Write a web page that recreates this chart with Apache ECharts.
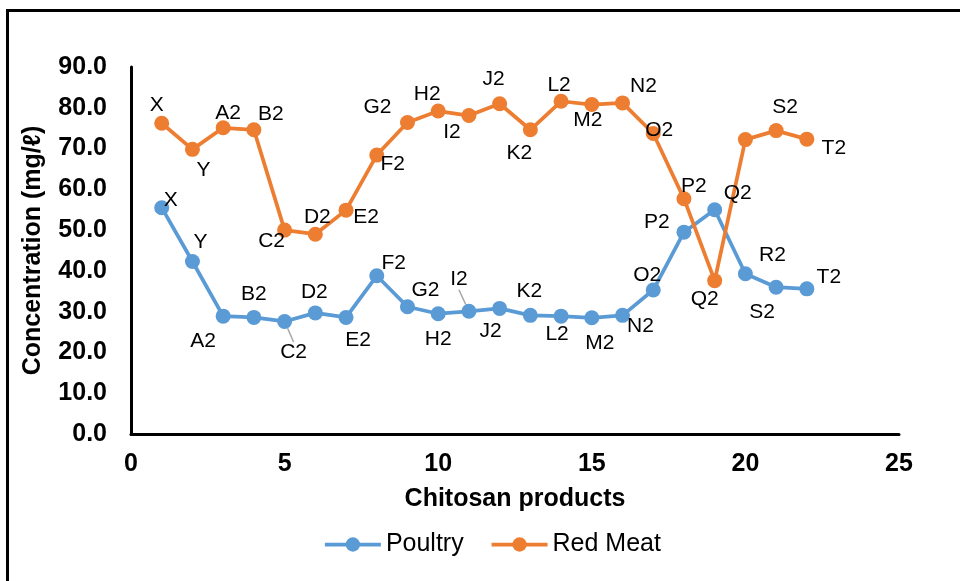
<!DOCTYPE html>
<html>
<head>
<meta charset="utf-8">
<script src="https://cdn.jsdelivr.net/npm/echarts@6/dist/echarts.min.js"></script>
<style>
  html, body { margin: 0; padding: 0; background: #ffffff; }
  #chart { width: 960px; height: 581px; }
</style>
</head>
<body>
<div id="chart"></div>
<script>
// Chitosan product codes and their position along the x axis
const products = ['X', 'Y', 'A2', 'B2', 'C2', 'D2', 'E2', 'F2', 'G2', 'H2', 'I2',
                  'J2', 'K2', 'L2', 'M2', 'N2', 'O2', 'P2', 'Q2', 'R2', 'S2', 'T2'];
const productIndex = [1, 2, 3, 4, 5, 6, 7, 8, 9, 10, 11, 12, 13, 14, 15, 16, 17, 18, 19, 20, 21, 22];

// Concentration (mg/ℓ) per product
const poultry = [55.5, 42.3, 28.9, 28.6, 27.6, 29.7, 28.6, 38.8, 31.2, 29.5, 30.1,
                 30.8, 29.1, 28.9, 28.5, 29.1, 35.3, 49.5, 55.0, 39.3, 36.0, 35.6];
const redMeat = [76.2, 69.8, 75.1, 74.6, 50.0, 49.0, 54.9, 68.4, 76.4, 79.2, 78.1,
                 81.0, 74.6, 81.6, 80.8, 81.2, 73.7, 57.7, 37.6, 72.2, 74.4, 72.3];

const seriesNames = ['Poultry', 'Red Meat'];
const xAxisTitle = 'Chitosan products';
const yAxisTitle = 'Concentration (mg/ℓ)';

// Where each point label sits relative to its marker (pixels); null = no label
const poultryLabelShift = [[9, -7], [8, -19], [-20, 25], [0, -23], [9, 31], [-1, -21], [12, 23],
  [17, -13], [18, -17], [0, 25], [-10, -32], [-9, 23], [-1, -24], [-4, 18], [8, 25], [18, 11],
  [-6, -15], [-27, -10], [23, -17], [27, -19], [-14, 25], [22, -12]];
const redMeatLabelShift = [[-5, -18], [11, 21], [5, -15], [17, -16], [-13, 11], [2, -17], [20, 7],
  [16, 9], [-30, -15], [-11, -17], [-17, 17], [-6, -24], [-11, 23], [-2, -16], [-4, 16], [21, -17],
  [6, -3], [10, -13], [-10, 19], null, [9, -23], [27, 9]];
// Labels drawn with a short guide line back to their marker
const poultryGuided = ['C2', 'I2'];

const FONT = '"Liberation Sans", Arial, sans-serif';
const BLUE = '#5B9BD5';
const ORANGE = '#ED7D31';

function buildData(values, shifts, guided) {
  return products.map((name, i) => {
    const item = { name: name, value: [productIndex[i], values[i]] };
    if (shifts[i] === null) item.label = { show: false };
    if (guided && guided.indexOf(name) >= 0) {
      item.labelLine = { show: true, lineStyle: { color: '#A6A6A6', width: 1.5 } };
    }
    return item;
  });
}

const shiftsBySeries = [poultryLabelShift, redMeatLabelShift];

function lineSeries(name, values, color, shifts, guided) {
  return {
    name: name,
    type: 'line',
    data: buildData(values, shifts, guided),
    symbol: 'circle',
    symbolSize: 15,
    lineStyle: { color: color, width: 3.75 },
    itemStyle: { color: color },
    label: {
      show: true,
      position: 'inside',
      formatter: p => p.name,
      color: '#000',
      fontFamily: FONT,
      fontSize: 21
    },
    labelLine: { show: false },
    labelLayout: function (params) {
      const s = shiftsBySeries[params.seriesIndex][params.dataIndex];
      if (!s) return {};
      return { dx: s[0], dy: s[1] };
    },
    emphasis: { disabled: true },
    animation: false
  };
}

const chart = echarts.init(document.getElementById('chart'), null, { renderer: 'canvas' });

chart.setOption({
  backgroundColor: '#ffffff',
  animation: false,
  graphic: [{
    type: 'rect',
    silent: true,
    shape: { x: 7.5, y: 10.5, width: 1000, height: 1000 },
    style: { fill: 'none', stroke: '#000', lineWidth: 3 }
  }],
  grid: { left: 131, right: 61, top: 67, bottom: 147, containLabel: false },
  legend: {
    data: seriesNames,
    left: 318,
    top: 527,
    itemWidth: 56,
    itemHeight: 18,
    itemGap: 26,
    lineStyle: { width: 3.75 },
    textStyle: { fontFamily: FONT, fontSize: 25, color: '#000' }
  },
  xAxis: {
    type: 'value',
    min: 0,
    max: 25,
    interval: 5,
    name: xAxisTitle,
    nameLocation: 'middle',
    nameGap: 53,
    nameTextStyle: { fontFamily: FONT, fontSize: 25, fontWeight: 'bold', color: '#000' },
    axisLine: { show: true, lineStyle: { color: '#000', width: 3 } },
    axisTick: { show: false },
    splitLine: { show: false },
    axisLabel: { margin: 18, fontFamily: FONT, fontSize: 25, fontWeight: 'bold', color: '#000' }
  },
  yAxis: {
    type: 'value',
    min: 0,
    max: 90,
    interval: 10,
    name: yAxisTitle,
    nameLocation: 'middle',
    nameGap: 85,
    nameTextStyle: { fontFamily: FONT, fontSize: 25, fontWeight: 'bold', color: '#000' },
    axisLine: { show: true, lineStyle: { color: '#000', width: 3 } },
    axisTick: { show: false },
    splitLine: { show: false },
    axisLabel: {
      margin: 24,
      fontFamily: FONT,
      fontSize: 25,
      fontWeight: 'bold',
      color: '#000',
      formatter: v => v.toFixed(1)
    }
  },
  series: [
    lineSeries(seriesNames[0], poultry, BLUE, poultryLabelShift, poultryGuided),
    lineSeries(seriesNames[1], redMeat, ORANGE, redMeatLabelShift, null)
  ]
});
</script>
</body>
</html>
